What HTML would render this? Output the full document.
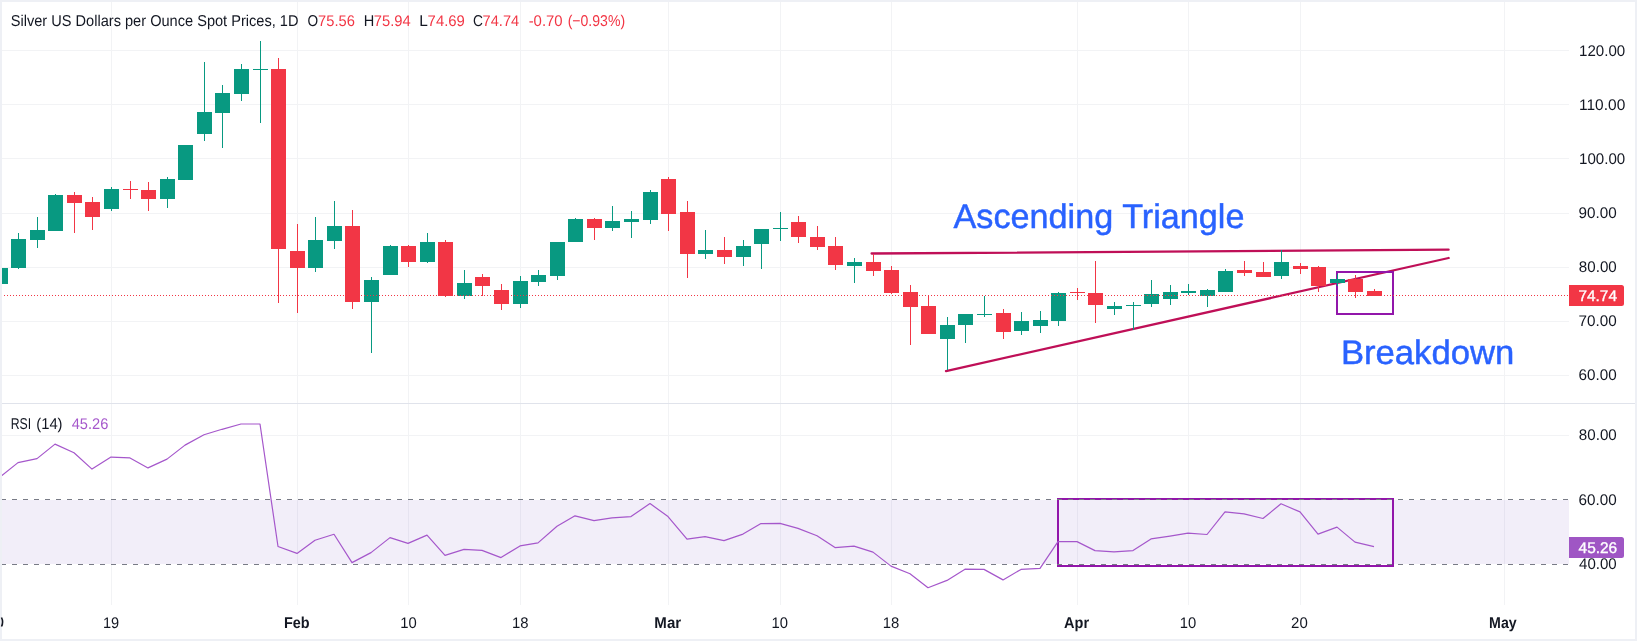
<!DOCTYPE html>
<html><head><meta charset="utf-8"><title>Silver chart</title>
<style>html,body{margin:0;padding:0;background:#fff}body{width:1637px;height:641px;position:relative;font-family:"Liberation Sans",sans-serif}svg{position:absolute;left:0;top:0;display:block}svg{will-change:transform}text{font-family:"Liberation Sans",sans-serif;text-rendering:geometricPrecision}</style></head><body>
<svg width="1637" height="641" viewBox="0 0 1637 641">
<rect x="0" y="0" width="1637" height="641" fill="#ffffff"/>
<g fill="#f2f3f5" shape-rendering="crispEdges">
<rect x="111" y="2" width="1" height="603"/>
<rect x="297" y="2" width="1" height="603"/>
<rect x="408" y="2" width="1" height="603"/>
<rect x="520" y="2" width="1" height="603"/>
<rect x="668" y="2" width="1" height="603"/>
<rect x="780" y="2" width="1" height="603"/>
<rect x="891" y="2" width="1" height="603"/>
<rect x="1077" y="2" width="1" height="603"/>
<rect x="1188" y="2" width="1" height="603"/>
<rect x="1300" y="2" width="1" height="603"/>
<rect x="1504" y="2" width="1" height="603"/>
<rect x="2" y="50" width="1567" height="1"/>
<rect x="2" y="104" width="1567" height="1"/>
<rect x="2" y="158" width="1567" height="1"/>
<rect x="2" y="213" width="1567" height="1"/>
<rect x="2" y="267" width="1567" height="1"/>
<rect x="2" y="321" width="1567" height="1"/>
<rect x="2" y="375" width="1567" height="1"/>
<rect x="2" y="435" width="1567" height="1"/>
</g>
<rect x="2" y="500" width="1567" height="64" fill="#7e57c2" fill-opacity="0.1" shape-rendering="crispEdges"/>
<rect x="2" y="403" width="1633" height="1" fill="#e0e3eb" shape-rendering="crispEdges"/>
<g stroke="#bf0f57" stroke-width="2.3" stroke-linecap="round" fill="none">
<line x1="871.6" y1="253.5" x2="1448.6" y2="249.7"/>
<line x1="946.0" y1="371.1" x2="1448.6" y2="258.0"/>
</g>
<g stroke="#9216aa" stroke-width="2" fill="none" shape-rendering="crispEdges">
<rect x="1337" y="272" width="56" height="42"/>
<rect x="1058" y="499" width="335" height="67"/>
</g>
<g shape-rendering="crispEdges">
<rect x="0" y="268" width="1" height="16" fill="#089981"/>
<rect x="-7" y="268" width="15" height="16" fill="#089981"/>
<rect x="18" y="233" width="1" height="36" fill="#089981"/>
<rect x="11" y="239" width="15" height="29" fill="#089981"/>
<rect x="37" y="217" width="1" height="31" fill="#089981"/>
<rect x="30" y="230" width="15" height="10" fill="#089981"/>
<rect x="55" y="194" width="1" height="37" fill="#089981"/>
<rect x="48" y="195" width="15" height="36" fill="#089981"/>
<rect x="74" y="192" width="1" height="41" fill="#F23645"/>
<rect x="67" y="195" width="15" height="8" fill="#F23645"/>
<rect x="92" y="197" width="1" height="33" fill="#F23645"/>
<rect x="85" y="202" width="15" height="15" fill="#F23645"/>
<rect x="111" y="187" width="1" height="24" fill="#089981"/>
<rect x="104" y="189" width="15" height="20" fill="#089981"/>
<rect x="130" y="181" width="1" height="18" fill="#F23645"/>
<rect x="123" y="189" width="15" height="1" fill="#F23645"/>
<rect x="148" y="182" width="1" height="29" fill="#F23645"/>
<rect x="141" y="190" width="15" height="9" fill="#F23645"/>
<rect x="167" y="177" width="1" height="31" fill="#089981"/>
<rect x="160" y="179" width="15" height="20" fill="#089981"/>
<rect x="185" y="145" width="1" height="35" fill="#089981"/>
<rect x="178" y="145" width="15" height="35" fill="#089981"/>
<rect x="204" y="62" width="1" height="79" fill="#089981"/>
<rect x="197" y="112" width="15" height="22" fill="#089981"/>
<rect x="222" y="85" width="1" height="63" fill="#089981"/>
<rect x="215" y="93" width="15" height="20" fill="#089981"/>
<rect x="241" y="64" width="1" height="37" fill="#089981"/>
<rect x="234" y="69" width="15" height="25" fill="#089981"/>
<rect x="260" y="41" width="1" height="82" fill="#089981"/>
<rect x="253" y="69" width="15" height="1" fill="#089981"/>
<rect x="278" y="58" width="1" height="245" fill="#F23645"/>
<rect x="271" y="69" width="15" height="180" fill="#F23645"/>
<rect x="297" y="224" width="1" height="89" fill="#F23645"/>
<rect x="290" y="251" width="15" height="17" fill="#F23645"/>
<rect x="315" y="217" width="1" height="55" fill="#089981"/>
<rect x="308" y="240" width="15" height="28" fill="#089981"/>
<rect x="334" y="201" width="1" height="48" fill="#089981"/>
<rect x="327" y="226" width="15" height="15" fill="#089981"/>
<rect x="352" y="210" width="1" height="99" fill="#F23645"/>
<rect x="345" y="226" width="15" height="76" fill="#F23645"/>
<rect x="371" y="277" width="1" height="76" fill="#089981"/>
<rect x="364" y="280" width="15" height="22" fill="#089981"/>
<rect x="390" y="245" width="1" height="30" fill="#089981"/>
<rect x="383" y="246" width="15" height="29" fill="#089981"/>
<rect x="408" y="245" width="1" height="22" fill="#F23645"/>
<rect x="401" y="246" width="15" height="16" fill="#F23645"/>
<rect x="427" y="233" width="1" height="30" fill="#089981"/>
<rect x="420" y="242" width="15" height="20" fill="#089981"/>
<rect x="445" y="240" width="1" height="57" fill="#F23645"/>
<rect x="438" y="242" width="15" height="54" fill="#F23645"/>
<rect x="464" y="270" width="1" height="29" fill="#089981"/>
<rect x="457" y="283" width="15" height="13" fill="#089981"/>
<rect x="482" y="274" width="1" height="22" fill="#F23645"/>
<rect x="475" y="277" width="15" height="9" fill="#F23645"/>
<rect x="501" y="284" width="1" height="26" fill="#F23645"/>
<rect x="494" y="290" width="15" height="14" fill="#F23645"/>
<rect x="520" y="276" width="1" height="32" fill="#089981"/>
<rect x="513" y="281" width="15" height="23" fill="#089981"/>
<rect x="538" y="270" width="1" height="16" fill="#089981"/>
<rect x="531" y="275" width="15" height="7" fill="#089981"/>
<rect x="557" y="242" width="1" height="38" fill="#089981"/>
<rect x="550" y="242" width="15" height="34" fill="#089981"/>
<rect x="575" y="218" width="1" height="24" fill="#089981"/>
<rect x="568" y="219" width="15" height="23" fill="#089981"/>
<rect x="594" y="218" width="1" height="22" fill="#F23645"/>
<rect x="587" y="219" width="15" height="9" fill="#F23645"/>
<rect x="612" y="206" width="1" height="25" fill="#089981"/>
<rect x="605" y="221" width="15" height="7" fill="#089981"/>
<rect x="631" y="211" width="1" height="27" fill="#089981"/>
<rect x="624" y="219" width="15" height="3" fill="#089981"/>
<rect x="650" y="190" width="1" height="34" fill="#089981"/>
<rect x="643" y="192" width="15" height="28" fill="#089981"/>
<rect x="668" y="177" width="1" height="54" fill="#F23645"/>
<rect x="661" y="179" width="15" height="35" fill="#F23645"/>
<rect x="687" y="201" width="1" height="77" fill="#F23645"/>
<rect x="680" y="212" width="15" height="42" fill="#F23645"/>
<rect x="705" y="230" width="1" height="29" fill="#089981"/>
<rect x="698" y="250" width="15" height="4" fill="#089981"/>
<rect x="724" y="237" width="1" height="27" fill="#F23645"/>
<rect x="717" y="250" width="15" height="7" fill="#F23645"/>
<rect x="743" y="240" width="1" height="26" fill="#089981"/>
<rect x="736" y="246" width="15" height="11" fill="#089981"/>
<rect x="761" y="229" width="1" height="40" fill="#089981"/>
<rect x="754" y="229" width="15" height="15" fill="#089981"/>
<rect x="780" y="212" width="1" height="29" fill="#089981"/>
<rect x="773" y="228" width="15" height="1" fill="#089981"/>
<rect x="798" y="216" width="1" height="27" fill="#F23645"/>
<rect x="791" y="222" width="15" height="15" fill="#F23645"/>
<rect x="817" y="226" width="1" height="24" fill="#F23645"/>
<rect x="810" y="237" width="15" height="10" fill="#F23645"/>
<rect x="835" y="237" width="1" height="33" fill="#F23645"/>
<rect x="828" y="246" width="15" height="19" fill="#F23645"/>
<rect x="854" y="258" width="1" height="25" fill="#089981"/>
<rect x="847" y="262" width="15" height="4" fill="#089981"/>
<rect x="873" y="254" width="1" height="22" fill="#F23645"/>
<rect x="866" y="262" width="15" height="9" fill="#F23645"/>
<rect x="891" y="266" width="1" height="28" fill="#F23645"/>
<rect x="884" y="270" width="15" height="23" fill="#F23645"/>
<rect x="910" y="285" width="1" height="60" fill="#F23645"/>
<rect x="903" y="292" width="15" height="15" fill="#F23645"/>
<rect x="928" y="295" width="1" height="39" fill="#F23645"/>
<rect x="921" y="306" width="15" height="28" fill="#F23645"/>
<rect x="947" y="317" width="1" height="53" fill="#089981"/>
<rect x="940" y="325" width="15" height="14" fill="#089981"/>
<rect x="965" y="314" width="1" height="29" fill="#089981"/>
<rect x="958" y="314" width="15" height="11" fill="#089981"/>
<rect x="984" y="296" width="1" height="21" fill="#089981"/>
<rect x="977" y="314" width="15" height="1" fill="#089981"/>
<rect x="1003" y="309" width="1" height="30" fill="#F23645"/>
<rect x="996" y="313" width="15" height="19" fill="#F23645"/>
<rect x="1021" y="312" width="1" height="23" fill="#089981"/>
<rect x="1014" y="321" width="15" height="10" fill="#089981"/>
<rect x="1040" y="311" width="1" height="22" fill="#089981"/>
<rect x="1033" y="320" width="15" height="6" fill="#089981"/>
<rect x="1058" y="292" width="1" height="34" fill="#089981"/>
<rect x="1051" y="293" width="15" height="28" fill="#089981"/>
<rect x="1077" y="288" width="1" height="12" fill="#F23645"/>
<rect x="1070" y="292" width="15" height="1" fill="#F23645"/>
<rect x="1095" y="261" width="1" height="62" fill="#F23645"/>
<rect x="1088" y="293" width="15" height="12" fill="#F23645"/>
<rect x="1114" y="302" width="1" height="13" fill="#089981"/>
<rect x="1107" y="306" width="15" height="3" fill="#089981"/>
<rect x="1133" y="302" width="1" height="28" fill="#089981"/>
<rect x="1126" y="305" width="15" height="1" fill="#089981"/>
<rect x="1151" y="280" width="1" height="27" fill="#089981"/>
<rect x="1144" y="294" width="15" height="10" fill="#089981"/>
<rect x="1170" y="285" width="1" height="20" fill="#089981"/>
<rect x="1163" y="292" width="15" height="7" fill="#089981"/>
<rect x="1188" y="284" width="1" height="11" fill="#089981"/>
<rect x="1181" y="291" width="15" height="2" fill="#089981"/>
<rect x="1207" y="289" width="1" height="18" fill="#089981"/>
<rect x="1200" y="290" width="15" height="6" fill="#089981"/>
<rect x="1225" y="269" width="1" height="23" fill="#089981"/>
<rect x="1218" y="271" width="15" height="21" fill="#089981"/>
<rect x="1244" y="261" width="1" height="15" fill="#F23645"/>
<rect x="1237" y="270" width="15" height="3" fill="#F23645"/>
<rect x="1263" y="262" width="1" height="15" fill="#F23645"/>
<rect x="1256" y="272" width="15" height="5" fill="#F23645"/>
<rect x="1281" y="250" width="1" height="29" fill="#089981"/>
<rect x="1274" y="262" width="15" height="14" fill="#089981"/>
<rect x="1300" y="263" width="1" height="11" fill="#F23645"/>
<rect x="1293" y="266" width="15" height="3" fill="#F23645"/>
<rect x="1318" y="266" width="1" height="26" fill="#F23645"/>
<rect x="1311" y="267" width="15" height="19" fill="#F23645"/>
<rect x="1337" y="274" width="1" height="12" fill="#089981"/>
<rect x="1330" y="279" width="15" height="4" fill="#089981"/>
<rect x="1355" y="275" width="1" height="23" fill="#F23645"/>
<rect x="1348" y="279" width="15" height="13" fill="#F23645"/>
<rect x="1374" y="289" width="1" height="7" fill="#F23645"/>
<rect x="1367" y="291" width="15" height="5" fill="#F23645"/>
</g>
<line x1="1" y1="295.5" x2="1569" y2="295.5" stroke="#F23645" stroke-width="1" stroke-dasharray="1 2" shape-rendering="crispEdges"/>
<g stroke="#787b86" stroke-width="1" stroke-dasharray="5 6" shape-rendering="crispEdges">
<line x1="1" y1="499.5" x2="1569" y2="499.5"/>
<line x1="1" y1="564.5" x2="1569" y2="564.5"/>
</g>
<polyline points="0.0,477.1 18.0,462.6 37.0,458.6 55.0,444.1 74.0,452.8 92.0,469.1 111.0,457.1 130.0,457.9 148.0,467.9 167.0,459.1 185.0,445.1 204.0,434.8 222.0,429.3 241.0,424.0 260.0,424.0 278.0,546.5 297.0,553.4 315.0,540.2 334.0,534.3 352.0,562.6 371.0,552.6 390.0,537.6 408.0,543.4 427.0,535.1 445.0,555.4 464.0,549.4 482.0,550.4 501.0,557.6 520.0,545.9 538.0,542.9 557.0,526.3 575.0,515.8 594.0,520.6 612.0,517.8 631.0,516.6 650.0,503.5 668.0,516.6 687.0,539.1 705.0,536.6 724.0,540.6 743.0,534.1 761.0,523.6 780.0,523.3 798.0,528.4 817.0,535.8 835.0,547.6 854.0,546.1 873.0,552.1 891.0,566.1 910.0,573.7 928.0,587.7 947.0,580.4 965.0,569.2 984.0,569.4 1003.0,579.9 1021.0,569.4 1040.0,568.4 1058.0,541.6 1077.0,541.6 1095.0,550.6 1114.0,551.9 1133.0,550.6 1151.0,538.9 1170.0,536.1 1188.0,533.2 1207.0,534.5 1225.0,511.8 1244.0,513.8 1263.0,518.5 1281.0,503.8 1300.0,511.9 1318.0,534.1 1337.0,527.1 1355.0,542.1 1374.0,546.6" fill="none" stroke="#a557cb" stroke-width="1.2" stroke-linejoin="round"/>
<g fill="#eef0f5" shape-rendering="crispEdges"><rect x="0" y="0" width="1637" height="2"/><rect x="0" y="639" width="1637" height="2"/><rect x="0" y="0" width="2" height="641"/><rect x="1635" y="0" width="2" height="641"/></g>
<path d="M1569 285h52.5a2.5 2.5 0 0 1 2.5 2.5v16a2.5 2.5 0 0 1-2.5 2.5H1569z" fill="#F23645"/>
<path d="M1569 537h52.5a2.5 2.5 0 0 1 2.5 2.5v16a2.5 2.5 0 0 1-2.5 2.5H1569z" fill="#9f56c4"/>
<text transform="translate(1579.06 55.90) scale(0.9813 1)" font-size="15.4" fill="#131722">120.00</text>
<text transform="translate(1579.03 110.00) scale(1.0064 1)" font-size="15.4" fill="#131722">110.00</text>
<text transform="translate(1579.06 164.00) scale(0.9813 1)" font-size="15.4" fill="#131722">100.00</text>
<text transform="translate(1578.58 218.00) scale(0.9911 1)" font-size="15.4" fill="#131722">90.00</text>
<text transform="translate(1578.83 272.00) scale(0.9848 1)" font-size="15.4" fill="#131722">80.00</text>
<text transform="translate(1578.58 326.00) scale(0.9911 1)" font-size="15.4" fill="#131722">70.00</text>
<text transform="translate(1578.58 380.00) scale(0.9911 1)" font-size="15.4" fill="#131722">60.00</text>
<text transform="translate(1578.83 440.00) scale(0.9848 1)" font-size="15.4" fill="#131722">80.00</text>
<text transform="translate(1578.58 505.00) scale(0.9911 1)" font-size="15.4" fill="#131722">60.00</text>
<text transform="translate(1579.06 569.20) scale(0.9785 1)" font-size="15.4" fill="#131722">40.00</text>
<text transform="translate(1578.48 301.00) scale(0.9991 1)" font-size="15.4" fill="#ffffff" stroke="#ffffff" stroke-width="0.35">74.74</text>
<text transform="translate(1578.56 553.10) scale(1.0034 1)" font-size="15.4" fill="#ffffff" stroke="#ffffff" stroke-width="0.35">45.26</text>
<text transform="translate(102.94 627.90) scale(0.9458 1)" font-size="15.4" fill="#131722">19</text>
<text transform="translate(283.95 627.90) scale(0.9140 1)" font-size="15.8" fill="#131722" font-weight="bold">Feb</text>
<text transform="translate(400.17 627.90) scale(0.9630 1)" font-size="15.4" fill="#131722">10</text>
<text transform="translate(511.97 627.90) scale(0.9651 1)" font-size="15.4" fill="#131722">18</text>
<text transform="translate(654.36 627.90) scale(0.9522 1)" font-size="15.8" fill="#131722" font-weight="bold">Mar</text>
<text transform="translate(771.47 627.90) scale(0.9630 1)" font-size="15.4" fill="#131722">10</text>
<text transform="translate(882.77 627.90) scale(0.9651 1)" font-size="15.4" fill="#131722">18</text>
<text transform="translate(1064.07 627.90) scale(0.9200 1)" font-size="15.8" fill="#131722" font-weight="bold">Apr</text>
<text transform="translate(1179.67 627.90) scale(0.9630 1)" font-size="15.4" fill="#131722">10</text>
<text transform="translate(1291.10 627.90) scale(0.9735 1)" font-size="15.4" fill="#131722">20</text>
<text transform="translate(1489.11 627.90) scale(0.8979 1)" font-size="15.8" fill="#131722" font-weight="bold">May</text>
<text transform="translate(10.74 26.00) scale(0.9297 1)" font-size="15.7" fill="#131722">Silver US Dollars per Ounce Spot Prices, 1D</text>
<text transform="translate(307.46 26.00) scale(0.8709 1)" font-size="15.7" fill="#131722">O</text>
<text transform="translate(318.11 26.00) scale(0.9545 1)" font-size="15.4" fill="#F23645">75.56</text>
<text transform="translate(363.66 26.00) scale(0.9285 1)" font-size="15.7" fill="#131722">H</text>
<text transform="translate(373.81 26.00) scale(0.9591 1)" font-size="15.4" fill="#F23645">75.94</text>
<text transform="translate(419.29 26.00) scale(0.9840 1)" font-size="15.7" fill="#131722">L</text>
<text transform="translate(427.60 26.00) scale(0.9680 1)" font-size="15.4" fill="#F23645">74.69</text>
<text transform="translate(473.06 26.00) scale(0.8749 1)" font-size="15.7" fill="#131722">C</text>
<text transform="translate(482.62 26.00) scale(0.9484 1)" font-size="15.4" fill="#F23645">74.74</text>
<text transform="translate(528.63 26.00) scale(0.9697 1)" font-size="15.4" fill="#F23645">-0.70</text>
<text transform="translate(567.64 26.00) scale(0.8963 1)" font-size="15.7" fill="#F23645">(−0.93%)</text>
<text transform="translate(10.74 429.40) scale(0.7821 1)" font-size="15.7" fill="#131722">RSI</text>
<text transform="translate(36.21 429.40) scale(0.9442 1)" font-size="15.7" fill="#131722">(14)</text>
<text transform="translate(71.67 429.40) scale(0.9503 1)" font-size="15.4" fill="#a557cb">45.26</text>
<text transform="translate(953.50 228.10) scale(0.9974 1)" font-size="34.3" fill="#2962ff" stroke="#2962ff" stroke-width="0.45">Ascending Triangle</text>
<text transform="translate(1340.89 363.70) scale(1.0191 1)" font-size="34" fill="#2962ff" stroke="#2962ff" stroke-width="0.45">Breakdown</text>
<path d="M1.5 617.5q2.2 4.5 0 9" stroke="#131722" stroke-width="1.6" fill="none"/>
</svg></body></html>
